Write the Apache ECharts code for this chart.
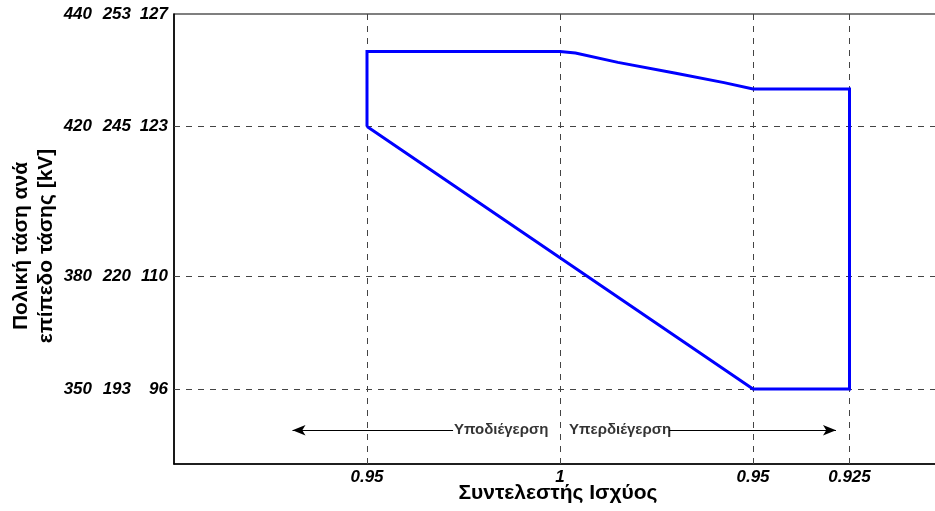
<!DOCTYPE html>
<html>
<head>
<meta charset="utf-8">
<script src="https://cdn.jsdelivr.net/npm/echarts@6/dist/echarts.min.js"></script>
<style>
  html, body { margin: 0; padding: 0; background: #fff; }
  #chart { width: 935px; height: 511px; }
</style>
</head>
<body>
<div id="chart"></div>
<script>
// Power-factor positions along the horizontal axis and their labels
const pfTickPos = [1, 2, 3, 3.5];
const pfTickLabels = ['0.95', '1', '0.95', '0.925'];

// Voltage-level positions along the vertical axis and the labels for each level
const vTickPos = [2, 5, 9, 12];
const v400Labels = ['350', '380', '420', '440'];
const v220Labels = ['193', '220', '245', '253'];
const v110Labels = ['96', '110', '123', '127'];

// Operating envelope boundary (closed outline)
const boundaryPf = [1, 1, 2, 2.08, 2.3, 2.6, 2.85, 3, 3.5, 3.5, 3, 1];
const boundaryV  = [9, 11, 11, 10.96, 10.71, 10.42, 10.17, 10, 10, 2, 2, 9];

// Under-/over-excitation arrows and captions
const arrowLevel = 0.9;
const underArrow = [1.446, 0.614];
const overArrow = [2.565, 3.43];
const underText = { pf: 1.94, label: 'Υποδιέγερση' };
const overText = { pf: 2.047, label: 'Υπερδιέγερση' };

const FONT = "'Liberation Sans', Arial, Helvetica, sans-serif";

const chart = echarts.init(document.getElementById('chart'), null, { renderer: 'canvas' });

const gridStyle = { color: '#444', width: 1, type: [6, 6] };
const tickFont = { fontFamily: FONT, fontSize: 17, fontWeight: 'bold', fontStyle: 'italic', color: '#000' };

chart.setOption({
  animation: false,
  backgroundColor: '#fff',
  grid: {
    left: 174, top: 14, width: 772, height: 450,
    show: true, borderColor: '#000', borderWidth: 1.2,
    containLabel: false, outerBoundsMode: 'none'
  },
  xAxis: {
    type: 'value', min: 0, max: 4, interval: 0.5,
    axisLine: { show: true, lineStyle: { color: '#000', width: 1.5 } },
    axisTick: { show: false },
    splitLine: { show: false },
    axisLabel: Object.assign({
      show: true, margin: 5, showMinLabel: true, showMaxLabel: true,
      formatter: function (v) {
        const i = pfTickPos.indexOf(v);
        return i < 0 ? '' : pfTickLabels[i];
      }
    }, tickFont)
  },
  yAxis: {
    type: 'value', min: 0, max: 12, interval: 1,
    axisLine: { show: true, lineStyle: { color: '#000', width: 1.5 } },
    axisTick: { show: false },
    splitLine: { show: false },
    axisLabel: Object.assign({
      show: true, margin: 6, showMaxLabel: true,
      formatter: function (v) {
        const i = vTickPos.indexOf(v);
        if (i < 0) return '';
        return '{a|' + v400Labels[i] + '}{b|' + v220Labels[i] + '}{c|' + v110Labels[i] + '}';
      },
      rich: {
        a: Object.assign({ width: 40, align: 'right' }, tickFont),
        b: Object.assign({ width: 39, align: 'right' }, tickFont),
        c: Object.assign({ width: 37, align: 'right' }, tickFont)
      }
    }, tickFont)
  },
  graphic: [
    {
      type: 'text', x: 34, y: 246, rotation: Math.PI / 2,
      style: {
        text: 'Πολική τάση ανά\nεπίπεδο τάσης [kV]',
        font: 'bold 21px ' + FONT, fill: '#000',
        align: 'center', verticalAlign: 'middle', lineHeight: 25
      }
    },
    {
      type: 'text', x: 558, y: 493,
      style: {
        text: 'Συντελεστής Ισχύος',
        font: 'bold 21px ' + FONT, fill: '#000',
        align: 'center', verticalAlign: 'middle'
      }
    }
  ],
  series: [
    {
      // dashed reference grid at the labelled positions
      type: 'line', data: [], silent: true,
      markLine: {
        silent: true, symbol: ['none', 'none'], animation: false,
        label: { show: false },
        lineStyle: gridStyle,
        data: pfTickPos.map(p => ({ xAxis: p }))
          .concat(vTickPos.filter(p => p < 12).map(p => ({ yAxis: p })))
      }
    },
    {
      // excitation arrows
      type: 'line', data: [], silent: true,
      markLine: {
        silent: true, symbol: ['none', 'arrow'], symbolSize: [8, 13], animation: false,
        label: { show: false },
        lineStyle: { color: '#000', width: 1, type: 'solid' },
        data: [
          [{ coord: [underArrow[0], arrowLevel] }, { coord: [underArrow[1], arrowLevel] }],
          [{ coord: [overArrow[0], arrowLevel] }, { coord: [overArrow[1], arrowLevel] }]
        ]
      }
    },
    {
      type: 'scatter', silent: true, symbolSize: 0,
      data: [[underText.pf, arrowLevel]],
      label: {
        show: true, position: 'left', distance: 0,
        formatter: underText.label,
        fontFamily: FONT, fontSize: 15, fontWeight: 'bold', color: '#000'
      }
    },
    {
      type: 'scatter', silent: true, symbolSize: 0,
      data: [[overText.pf, arrowLevel]],
      label: {
        show: true, position: 'right', distance: 0,
        formatter: overText.label,
        fontFamily: FONT, fontSize: 15, fontWeight: 'bold', color: '#000'
      }
    },
    {
      type: 'line',
      data: boundaryPf.map((p, i) => [p, boundaryV[i]]),
      showSymbol: false, symbol: 'none', silent: true,
      lineStyle: { color: '#0000ff', width: 3, join: 'miter' },
      z: 5
    }
  ]
});
</script>
</body>
</html>
